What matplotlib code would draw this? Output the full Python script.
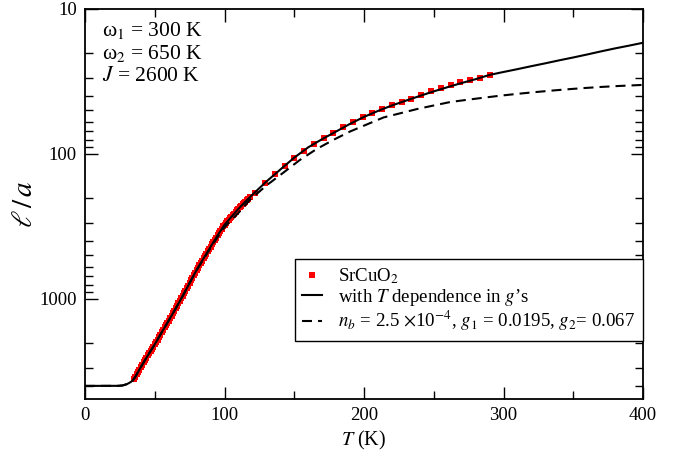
import matplotlib
matplotlib.use("Agg")
import matplotlib.pyplot as plt
from matplotlib.ticker import LogLocator, NullFormatter, FixedLocator, MultipleLocator

plt.rcParams['font.family'] = ['Liberation Serif', 'DejaVu Serif']
plt.rcParams['mathtext.fontset'] = 'stix'

# SrCuO2 data (ell/a vs T)
t_data = [35, 36, 37, 38, 39, 40, 41, 42, 43, 44, 45, 46, 47, 48, 49, 50,
          51, 52, 53, 54, 55, 56, 57, 58, 59, 60, 61, 62, 63, 64, 65, 66,
          67, 68, 69, 70, 71, 72, 73, 74, 75, 76, 77, 78, 79, 80, 81, 82,
          83, 84, 85, 86, 87, 88, 89, 90, 91, 92, 93, 94, 95, 96, 97, 98,
          99, 100, 101, 102, 103, 104, 105, 106, 107, 108, 109, 110, 111,
          112, 113, 114, 115, 116, 117, 118,
          122, 129, 136, 143, 150, 157, 164, 171, 178, 185, 192, 199, 206,
          213, 220, 227, 234, 241, 248, 255, 262, 269, 276, 283, 290]
l_data = [3589, 3451, 3319, 3192, 3069, 2951, 2844, 2742, 2642, 2547, 2455,
          2371, 2291, 2213, 2138, 2056, 1982, 1905, 1832, 1766, 1698, 1637,
          1574, 1517, 1462, 1409, 1355, 1306, 1259, 1211, 1164, 1119, 1074,
          1033, 993, 955, 916, 879, 843, 809, 776, 745, 714, 685, 658, 631,
          608, 586, 565, 545, 525, 506, 488, 470, 453, 437, 421, 406, 392,
          378, 365, 352, 340, 328, 316, 308, 300, 292, 285, 278, 271, 264,
          258, 251, 245, 239, 233, 228, 223, 218, 213, 208, 203, 199,
          186, 158, 138, 121, 106, 95, 85, 78, 72, 65, 60, 56, 52.5,
          49, 46, 43.6, 41.7, 38.9, 36.7, 35, 33.6, 32, 30.9, 29.9, 28.5]

# model with T dependence in g's
t_fit = [0, 24, 27, 30, 32, 34, 36, 38, 40, 45, 50, 55, 60, 65, 70, 75, 80,
         85, 90, 95, 100, 105, 110, 115, 120, 130, 143, 150, 160, 170, 180,
         190, 200, 210, 220, 230, 240, 250, 260, 270, 280, 290, 300, 310,
         320, 330, 340, 350, 360, 370, 380, 390, 400]
l_fit = [3980, 3975, 3950, 3870, 3780, 3673, 3451, 3192, 2951, 2455, 2056,
         1698, 1409, 1164, 955, 776, 631, 525, 437, 365, 308, 271, 239, 213,
         191, 155, 121, 106, 90, 79, 70, 62, 55.5, 50.5, 46.3, 42.9, 39.8,
         37, 34.6, 32.4, 30.5, 28.5, 27.2, 26.0, 24.8, 23.7, 22.6, 21.6,
         20.6, 19.6, 18.7, 17.9, 17.1]

# constant g's
t_const = [0, 24, 27, 30, 32, 34, 36, 38, 40, 45, 50, 55, 60, 65, 70, 75, 80,
           85, 90, 95, 100, 110, 118, 130, 142, 154, 166, 178, 190, 202, 214,
           226, 238, 250, 262, 274, 286, 298, 310, 322, 334, 346, 358, 370,
           382, 400]
l_const = [3980, 3975, 3950, 3870, 3780, 3673, 3451, 3192, 2951, 2455, 2056,
           1698, 1409, 1164, 955, 776, 633, 530, 445, 375, 320, 255, 208, 165,
           135, 110, 92.5, 80, 70, 62.6, 56, 52.4, 49, 46.3, 43.8, 42.3, 40.9,
           39.6, 38.5, 37.5, 36.6, 35.8, 35.1, 34.5, 34, 33.4]

fig = plt.figure(figsize=(6.84, 4.53), dpi=100)
ax = fig.add_axes([0.1243, 0.1192, 0.8158, 0.861])

ax.plot(t_data, l_data, 's', color='#ff0000', markersize=5,
        markeredgewidth=0, zorder=2, label='SrCuO$_2$')
ax.plot(t_fit, l_fit, '-', color='black', linewidth=1.5, zorder=3,
        label='with $T$ dependence in $g$\u2019s')
ax.plot(t_const, l_const, color='black', linewidth=1.5, zorder=3,
        linestyle=(0, (4.8, 2.9)),
        label='$n_b$ = 2.5 $\\times$10$^{-4}$, $g_1$ = 0.0195, $g_2$= 0.067')

ax.set_yscale('log')
ax.set_xlim(0, 400)
ax.set_ylim(4900, 10)

ax.xaxis.set_major_locator(MultipleLocator(100))
ax.xaxis.set_minor_locator(MultipleLocator(50))
ax.yaxis.set_major_locator(FixedLocator([10, 100, 1000]))
ax.yaxis.set_minor_locator(LogLocator(base=10, subs=range(2, 10)))
ax.yaxis.set_minor_formatter(NullFormatter())
ax.set_yticklabels(['10', '100', '1000'])

ax.tick_params(which='both', direction='in', top=True, right=True,
               labelsize=13.5, width=1)
ax.tick_params(which='major', length=9, pad=6)
ax.tick_params(which='minor', length=6)
for s in ax.spines.values():
    s.set_linewidth(1.3)

ax.set_xlabel('$T$ (K)', fontsize=14.5, labelpad=3)
ax.set_ylabel('$\\ell\\,/\\,a$', fontsize=21)
ax.yaxis.set_label_coords(-0.084, 0.5)

ax.text(0.03, 0.944, '\u03c9$_1$ = 300 K', transform=ax.transAxes,
        fontsize=15.5, va='center')
ax.text(0.03, 0.885, '\u03c9$_2$ = 650 K', transform=ax.transAxes,
        fontsize=15.5, va='center')
ax.text(0.03, 0.826, '$J$ = 2600 K', transform=ax.transAxes,
        fontsize=15.5, va='center')

leg = ax.legend(loc='lower right', bbox_to_anchor=(1.0, 0.149),
                borderaxespad=0, fontsize=13.6, fancybox=False,
                edgecolor='black', framealpha=1, handlelength=1.05,
                handletextpad=0.85, labelspacing=0.05, borderpad=0.4,
                numpoints=1)
leg.get_frame().set_linewidth(1.0)
leg.set_zorder(5)

fig.savefig('out.png', dpi=100)
